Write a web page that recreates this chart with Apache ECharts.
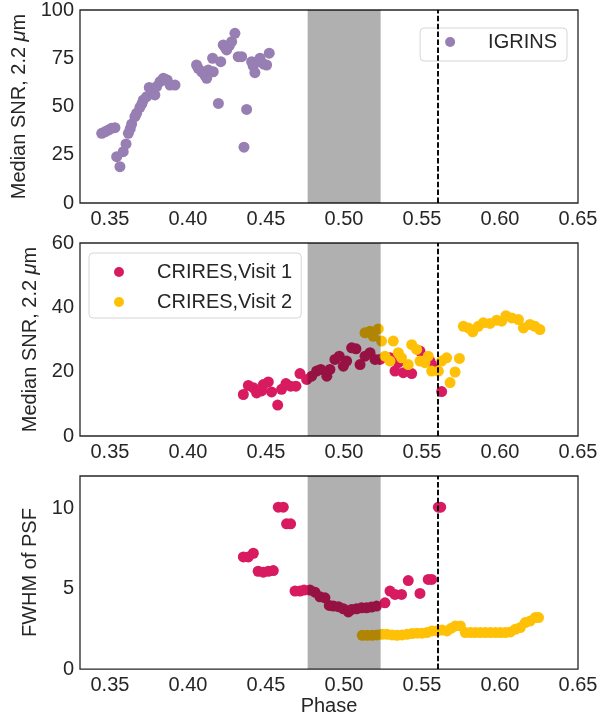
<!DOCTYPE html>
<html>
<head>
<meta charset="utf-8">
<script src="https://cdn.jsdelivr.net/npm/echarts@6/dist/echarts.min.js"></script>
<style>html,body{margin:0;padding:0;background:#fff}#c{width:610px;height:717px}</style>
</head>
<body>
<div id="c"></div>
<script>
// ---- data ----
const xTicks = [0.35, 0.40, 0.45, 0.50, 0.55, 0.60, 0.65];
const snr1Ticks = [0, 25, 50, 75, 100];
const snr2Ticks = [0, 20, 40, 60];
const fwhmTicks = [0, 5, 10];

const igrinsPhase = [0.3447,0.3468,0.3490,0.3510,0.3532,0.3543,0.3564,0.3585,0.3603,0.3618,0.3630,0.3639,0.3660,0.3671,0.3692,0.3705,0.3714,0.3735,0.3752,0.3770,0.3788,0.3799,0.3821,0.3842,0.3855,0.3867,0.3885,0.3917,
  0.4055,0.4066,0.4088,0.4110,0.4120,0.4130,0.4162,0.4158,0.4210,0.4195,0.4226,0.4240,0.4248,0.4265,0.4280,0.4301,0.4322,0.4344,0.4376,0.4359,0.4408,0.4418,0.4429,0.4450,0.4462,0.4485,0.4504,0.4521];
const igrinsSNR = [36.1,36.9,37.8,38.7,39.0,24.0,18.8,26.6,30.6,36.1,38.5,40.9,44.7,46.5,49.6,51.5,53.4,55.1,59.9,57.5,56.0,60.3,62.9,64.6,64.0,63.7,61.1,61.1,
  71.5,69.8,68.0,66.0,64.6,68.9,68.0,75.0,73.2,51.6,81.9,80.5,79.3,81.5,83.6,87.9,75.8,75.8,48.5,28.9,73.2,71.0,67.5,73.5,75.0,72.0,71.5,77.6];

const v1SnrPhase = [0.4355,0.4387,0.4419,0.4440,0.4472,0.4483,0.4515,0.4536,0.4575,0.4600,0.4628,0.4658,0.4692,0.4718,0.4761,0.4793,0.4825,0.4851,0.4890,0.4910,0.4942,0.4970,0.4996,0.5017,0.5049,0.5077,0.5103,0.5135,0.5167,0.5199,0.5231,0.5295,0.5327,0.5348,0.5380,0.5434,0.5487,0.5551,0.5583,0.5626];
const v1Snr = [12.9,15.7,15.0,13.4,14.0,16.0,16.8,13.7,9.6,14.5,16.3,15.5,15.5,19.4,17.6,18.6,20.2,20.7,18.6,20.7,23.8,24.8,21.7,23.3,27.4,27.1,22.2,24.8,25.9,23.8,23.8,24.3,20.2,22.8,19.7,19.4,26.4,23.3,21.7,13.8];

const v2SnrPhase = [0.5135,0.5167,0.5188,0.5220,0.5241,0.5263,0.5295,0.5316,0.5348,0.5369,0.5412,0.5434,0.5466,0.5487,0.5519,0.5540,0.5562,0.5605,0.5626,0.5658,0.5680,0.5712,0.5740,0.5765,0.5797,0.5825,0.5861,0.5893,0.5936,0.5979,0.6011,0.6038,0.6075,0.6118,0.6150,0.6192,0.6224,0.6256];
const v2Snr = [32.1,32.6,31.0,33.3,29.5,24.8,23.3,29.5,25.9,24.3,22.2,28.4,26.9,23.3,22.8,24.8,20.2,20.2,23.3,24.3,16.6,19.9,24.1,34.1,33.6,32.4,34.1,35.2,35.0,36.0,35.7,37.4,36.7,36.2,33.6,34.7,34.1,33.1];

const v1FwhmPhase = [0.4355,0.4387,0.4419,0.4450,0.4483,0.4515,0.4547,0.4579,0.4611,0.4632,0.4658,0.4686,0.4718,0.4744,0.4782,0.4814,0.4846,0.4878,0.4906,0.4932,0.4964,0.4996,0.5028,0.5049,0.5081,0.5113,0.5145,0.5177,0.5209,0.5263,0.5295,0.5327,0.5369,0.5412,0.5487,0.5540,0.5562,0.5605,0.5620];
const v1Fwhm = [6.97,6.97,7.2,6.08,6.02,6.08,6.12,10.06,10.06,9.03,9.03,4.85,4.85,4.91,4.91,4.78,4.49,4.43,3.96,3.92,3.88,3.75,3.55,3.71,3.75,3.81,3.81,3.86,3.92,4.12,4.85,4.64,4.64,5.5,4.7,5.57,5.57,10.06,10.06];

const v2FwhmPhase = [0.5117,0.5149,0.5181,0.5212,0.5244,0.5276,0.5308,0.5340,0.5372,0.5404,0.5436,0.5468,0.5500,0.5532,0.5564,0.5596,0.5628,0.5660,0.5688,0.5714,0.5746,0.5778,0.5810,0.5842,0.5874,0.5906,0.5938,0.5971,0.6003,0.6035,0.6067,0.6098,0.6130,0.6162,0.6194,0.6226,0.6247];
const v2Fwhm = [2.10,2.10,2.10,2.12,2.16,2.16,2.12,2.10,2.12,2.16,2.21,2.23,2.23,2.27,2.37,2.37,2.43,2.37,2.54,2.68,2.68,2.27,2.27,2.27,2.27,2.27,2.27,2.27,2.27,2.27,2.31,2.47,2.58,2.89,2.99,3.20,3.20];

const spanStart = 0.4767, spanEnd = 0.5235, dashPhase = 0.560;

// ---- chart ----
const zip = (a, b) => a.map((v, i) => [v, b[i]]);
const TXT = '#262626';
const FONT = '"Liberation Sans", Arial, sans-serif';
const FS = 20;
const PURPLE = '#977EB3', CRIMSON = '#D81B60', GOLD = '#FFC107';

const grids = [
  {left: 80, right: 32, top: 10, height: 193},
  {left: 80, right: 32, top: 243, height: 193},
  {left: 80, right: 32, top: 476, height: 194}
].map(g => Object.assign(g, {show: true, borderColor: TXT, borderWidth: 1.3, backgroundColor: '#fff'}));

function xAxis(i) {
  return {
    type: 'value', gridIndex: i, min: 0.3308, max: 0.65,
    splitLine: {show: false}, axisLine: {show: false}, axisTick: {show: false},
    axisLabel: {customValues: xTicks, color: TXT, fontSize: FS, fontFamily: FONT, margin: 6,
      formatter: v => v.toFixed(2)},
    name: i === 2 ? 'Phase' : '', nameLocation: 'middle', nameGap: 26,
    nameTextStyle: {color: TXT, fontSize: FS, fontFamily: FONT}
  };
}
function yAxis(i, max, ticks, name, gap) {
  return {
    type: 'value', gridIndex: i, min: 0, max: max,
    splitLine: {show: false}, axisLine: {show: false}, axisTick: {show: false},
    axisLabel: {customValues: ticks, color: TXT, fontSize: FS, fontFamily: FONT, margin: 6},
    name: name, nameLocation: 'middle', nameGap: gap, nameRotate: 90,
    nameTextStyle: {color: TXT, fontSize: FS, fontFamily: FONT,
      rich: {i: {fontStyle: 'italic', color: TXT, fontSize: FS, fontFamily: FONT}}}
  };
}
function overlay(i) {
  return {
    type: 'scatter', xAxisIndex: i, yAxisIndex: i, data: [], z: 10, zlevel: 1, silent: true,
    markArea: {silent: true, z: 10, itemStyle: {color: 'rgba(0,0,0,0.31)'},
      data: [[{xAxis: spanStart}, {xAxis: spanEnd}]]},
    markLine: {silent: true, z: 11, symbol: ['none', 'none'], label: {show: false},
      lineStyle: {color: '#000', type: [5.5, 2.4], width: 1.9},
      data: [{xAxis: dashPhase}]}
  };
}
function sc(name, i, data, color) {
  return {type: 'scatter', name: name, xAxisIndex: i, yAxisIndex: i, data: data,
    symbol: 'circle', symbolSize: 11, itemStyle: {color: color, opacity: 1}, z: 2};
}
const legendBase = {orient: 'vertical', icon: 'circle', itemWidth: 10, itemHeight: 10,
  borderColor: '#d6d6d6', borderWidth: 1, borderRadius: 4, backgroundColor: 'rgba(255,255,255,0.8)',
  textStyle: {color: TXT, fontSize: FS, fontFamily: FONT, lineHeight: 22, padding: [0, 0, 0, 28]}};

const chart = echarts.init(document.getElementById('c'), null, {renderer: 'canvas'});
chart.setOption({
  animation: false,
  backgroundColor: '#fff',
  grid: grids,
  xAxis: [xAxis(0), xAxis(1), xAxis(2)],
  yAxis: [
    yAxis(0, 100, snr1Ticks, 'Median SNR, 2.2 {i|μ}m', 43),
    yAxis(1, 60, snr2Ticks, 'Median SNR, 2.2 {i|μ}m', 31),
    yAxis(2, 12, fwhmTicks, 'FWHM of PSF', 31)
  ],
  legend: [
    Object.assign({}, legendBase, {data: ['IGRINS'], right: 43, top: 28, padding: [3, 10, 8, 25]}),
    Object.assign({}, legendBase, {data: ['CRIRES,Visit 1', 'CRIRES,Visit 2'], left: 89, top: 253,
      itemGap: 8, padding: [8, 9, 5, 25]})
  ],
  series: [
    sc('IGRINS', 0, zip(igrinsPhase, igrinsSNR), PURPLE),
    sc('CRIRES,Visit 1', 1, zip(v1SnrPhase, v1Snr), CRIMSON),
    sc('CRIRES,Visit 2', 1, zip(v2SnrPhase, v2Snr), GOLD),
    sc('CRIRES,Visit 1', 2, zip(v1FwhmPhase, v1Fwhm), CRIMSON),
    sc('CRIRES,Visit 2', 2, zip(v2FwhmPhase, v2Fwhm), GOLD),
    overlay(0), overlay(1), overlay(2)
  ]
});
</script>
</body>
</html>
